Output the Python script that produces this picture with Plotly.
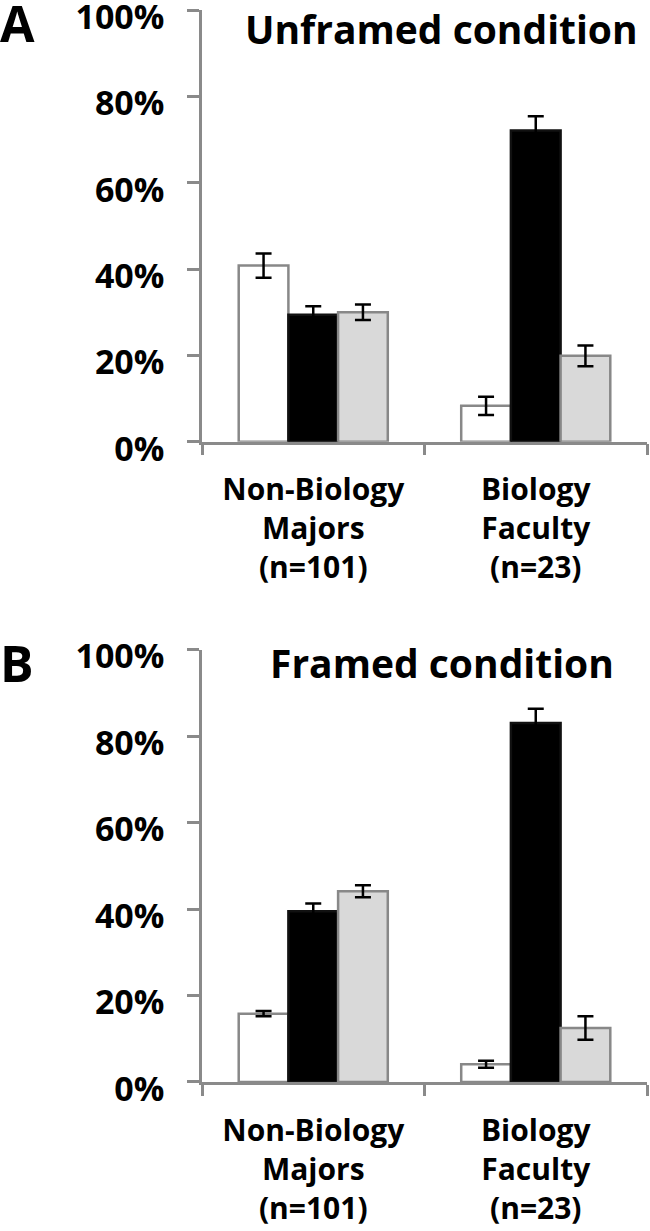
import plotly.graph_objects as go

groups = ["Non-Biology<br>Majors<br>(n=101)", "Biology<br>Faculty<br>(n=23)"]
series_names = ["Series 1", "Series 2", "Series 3"]

unframed_values = [[40.8, 8.3], [29.4, 72.1], [30.0, 19.9]]
unframed_errors = [[2.8, 2.1], [2.0, 3.3], [1.8, 2.4]]
framed_values = [[15.8, 4.1], [39.5, 83.0], [44.1, 12.5]]
framed_errors = [[0.6, 0.8], [1.8, 3.3], [1.4, 2.7]]

y_ticks = [0, 20, 40, 60, 80, 100]
y_tick_labels = ["0%", "20%", "40%", "60%", "80%", "100%"]
panel_titles = ["Unframed condition", "Framed condition"]
panel_letters = ["A", "B"]

fills = ["#ffffff", "#000000", "#d9d9d9"]
outlines = ["#888888", "#111111", "#888888"]
FONT = "Open Sans"
AXC = "#8a8a8a"

fig = go.Figure()
for panel, (vals, errs) in enumerate([(unframed_values, unframed_errors), (framed_values, framed_errors)]):
    xa = "x" if panel == 0 else "x2"
    ya = "y" if panel == 0 else "y2"
    for i in range(3):
        fig.add_trace(go.Bar(
            x=groups, y=vals[i], name=series_names[i], xaxis=xa, yaxis=ya,
            marker=dict(color=fills[i], line=dict(color=outlines[i], width=2.5)),
            error_y=dict(type="data", array=errs[i], color="black", thickness=2.5, width=8),
            showlegend=False,
        ))

axis_common_y = dict(
    range=[0, 100], tickmode="array", tickvals=y_ticks, ticktext=y_tick_labels,
    showgrid=False, zeroline=False, automargin=False, ticklabeloverflow="allow",
    showline=True, linecolor=AXC, linewidth=2.5, ticks="outside", ticklen=12,
    tickwidth=2.5, tickcolor=AXC, ticklabelstandoff=16, ticklabelshift=7,
    tickfont=dict(family=FONT, size=34, color="black", weight="bold"),
)
axis_common_x = dict(
    type="category", tickson="boundaries", showgrid=False, zeroline=False, automargin=False,
    showline=True, linecolor=AXC, linewidth=2.5, ticks="outside", ticklen=11,
    tickwidth=2.5, tickcolor=AXC, ticklabelstandoff=20,
    tickfont=dict(family=FONT, size=30, color="black", weight="bold"),
)

fig.update_layout(
    width=650, height=1231,
    margin=dict(l=202, r=3, t=10, b=149, autoexpand=False),
    paper_bgcolor="white", plot_bgcolor="white",
    barmode="group", bargap=0.33, bargroupgap=0,
    showlegend=False,
    xaxis=dict(domain=[0, 1], anchor="y", **axis_common_x),
    yaxis=dict(domain=[0.5973, 1], anchor="x", **axis_common_y),
    xaxis2=dict(domain=[0, 1], anchor="y2", **axis_common_x),
    yaxis2=dict(domain=[0, 0.4034], anchor="x2", **axis_common_y),
)

title_y = [0.9823, 0.3909]
letter_y = [0.9875, 0.391]
for k in range(2):
    fig.add_annotation(text=panel_titles[k], xref="paper", yref="paper", x=0.539, y=title_y[k],
                       xanchor="center", yanchor="middle", showarrow=False,
                       font=dict(family=FONT, size=39, color="black", weight="bold"))
    fig.add_annotation(text=panel_letters[k], xref="paper", yref="paper", x=-0.4157, y=letter_y[k],
                       xanchor="center", yanchor="middle", showarrow=False,
                       font=dict(family=FONT, size=50, color="black", weight="bold"))

fig.write_html("out.html", config={"displayModeBar": False},
               post_script="document.body.style.margin='0';document.body.style.overflow='hidden';")
